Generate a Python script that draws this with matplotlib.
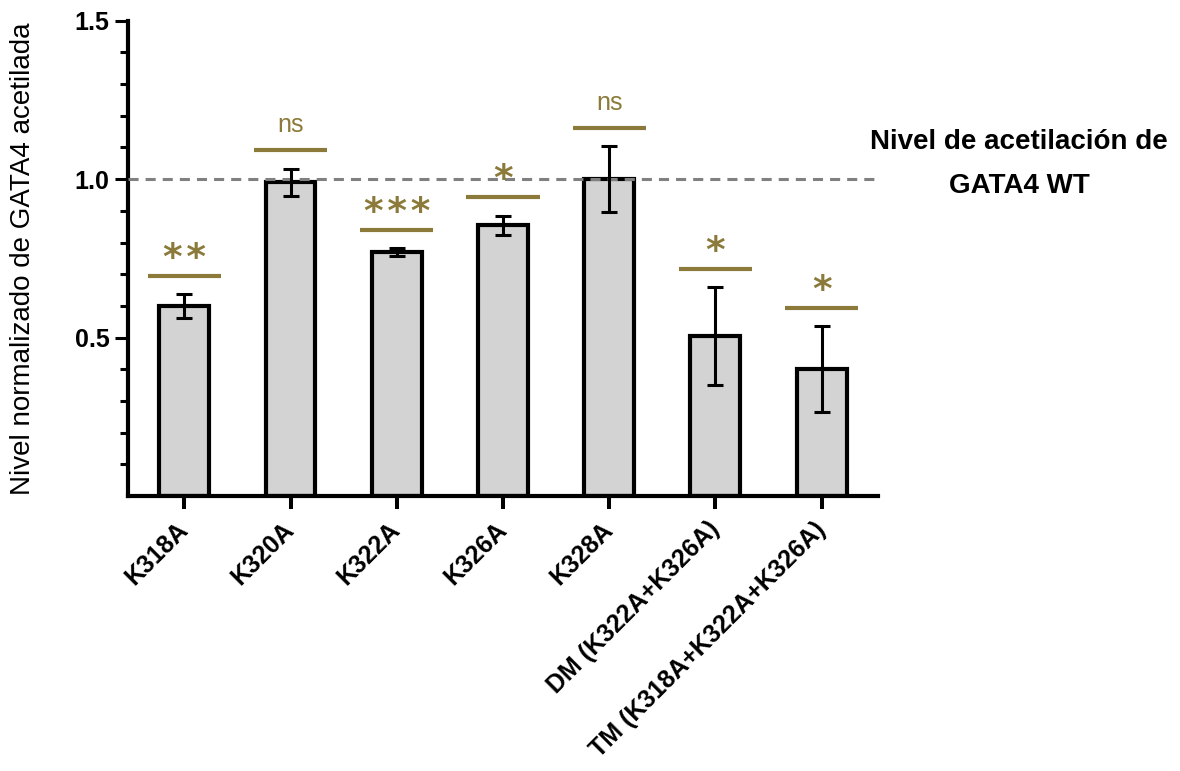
import matplotlib
matplotlib.use("Agg")
import matplotlib.pyplot as plt
from matplotlib.ticker import FixedLocator
import numpy as np

plt.rcParams['font.family'] = ['Liberation Sans', 'DejaVu Sans']

# Mutants of GATA4 and their normalized acetylation levels (mean ± error)
categories = ['K318A', 'K320A', 'K322A', 'K326A', 'K328A',
              'DM (K322A+K326A)', 'TM (K318A+K322A+K326A)']
means = [0.60, 0.99, 0.77, 0.855, 1.00, 0.505, 0.40]
errors = [0.037, 0.043, 0.012, 0.030, 0.103, 0.154, 0.135]
significance = ['**', 'ns', '***', '*', 'ns', '*', '*']
wt_level = 1.0
wt_label = 'Nivel de acetilación de\nGATA4 WT'
ylabel = 'Nivel normalizado de GATA4 acetilada'

olive = '#8b7a3a'
W, H = 1180, 771
fig = plt.figure(figsize=(W / 100, H / 100), dpi=100)
ax = fig.add_axes([128 / W, 1 - 496 / H, 750 / W, (496 - 20.7) / H])

x = np.arange(len(categories))
ax.bar(x, means, width=0.47, color='#d3d3d3', edgecolor='black',
       linewidth=3, zorder=2)
ax.errorbar(x, means, yerr=errors, fmt='none', ecolor='black',
            elinewidth=2.2, capsize=5.5, capthick=2.2, zorder=4)
ax.axhline(wt_level, color='#808080', lw=2.2, linestyle=(0, (3.3, 2.3)),
           zorder=3)

# significance bars above each mutant
for xi, m, e, s in zip(x, means, errors, significance):
    yb = m + e + 0.058
    ax.plot([xi - 0.345, xi + 0.345], [yb, yb], color=olive, lw=3,
            solid_capstyle='butt', zorder=5)
    if s == 'ns':
        ax.annotate(s, (xi, yb), xytext=(0, 13), textcoords='offset points',
                    ha='center', va='baseline', fontsize=18, color=olive,
                    zorder=6)
    else:
        ax.annotate('\u200a'.join(s), (xi, yb), xytext=(0, 5),
                    textcoords='offset points', ha='center', va='baseline',
                    fontsize=27, fontweight='bold', color=olive,
                    family='DejaVu Sans', zorder=6)

ax.set_xlim(-0.53, 6.53)
ax.set_ylim(0, 1.5)
for side in ('top', 'right'):
    ax.spines[side].set_visible(False)
for side in ('left', 'bottom'):
    ax.spines[side].set_linewidth(3)

ax.set_yticks([0.5, 1.0, 1.5])
ax.set_yticklabels(['0.5', '1.0', '1.5'], fontsize=18, fontweight='bold')
ax.yaxis.set_minor_locator(FixedLocator([0.1, 0.2, 0.3, 0.4, 0.6, 0.7, 0.8,
                                         0.9, 1.1, 1.2, 1.3, 1.4]))
ax.tick_params(axis='y', which='major', length=9.4, width=2.2, pad=4)
ax.tick_params(axis='y', which='minor', length=5.8, width=2.2)

ax.set_xticks(x)
ax.set_xticklabels(categories, rotation=45, ha='right', va='center',
                   rotation_mode='anchor', fontsize=18, fontweight='bold')
ax.tick_params(axis='x', length=9.4, width=2.9, pad=12)

ax.set_ylabel(ylabel, fontsize=20)
ax.yaxis.set_label_coords(-0.122, 0.5)

fig.text(1019 / W, 1 - 164 / H, wt_label, ha='center', va='center',
         fontsize=20, fontweight='bold', linespacing=1.87)

fig.savefig('out.png', dpi=100)
